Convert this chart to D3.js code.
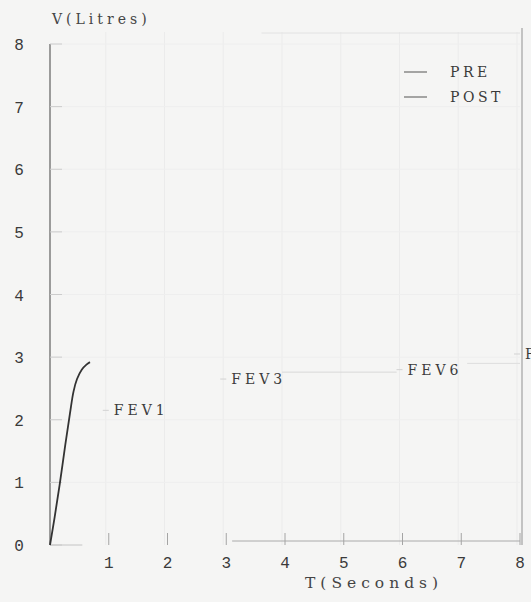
<!DOCTYPE html>
<html><head><meta charset="utf-8">
<script src="https://cdn.jsdelivr.net/npm/d3@7"></script>
<style>
html,body{margin:0;padding:0;background:#f5f5f4;}
svg{display:block;}
</style></head>
<body>
<script>
// Data
const xTicks = [1,2,3,4,5,6,7,8];
const yTicks = [0,1,2,3,4,5,6,7,8];
const preTime = [0, 0.08, 0.17, 0.26, 0.34, 0.4, 0.46, 0.54, 0.62, 0.68];
const preVolume = [0, 0.45, 1.0, 1.6, 2.1, 2.45, 2.65, 2.8, 2.88, 2.92];
const markLabels = ["FEV1", "FEV3", "FEV6", "FVC"];
const markTime = [1, 3, 6, 8];
const markVolume = [2.15, 2.65, 2.8, 3.05];
const legendLabels = ["PRE", "POST"];

const W = 531, H = 602;
const svg = d3.select("body").append("svg").attr("width", W).attr("height", H);
const x = d3.scaleLinear().domain([0, 8]).range([50, 520]);
const y = d3.scaleLinear().domain([0, 8]).range([545, 44]);
const mono = "'Courier New', 'Liberation Mono', 'DejaVu Sans Mono', monospace";
const slab = "'DejaVu Serif', 'Liberation Serif', serif";
const ink = "#3a3a3a";

// faint grid
const g = svg.append("g");
g.selectAll(".gx").data(xTicks).join("line")
  .attr("x1", d => x(d) - 3).attr("x2", d => x(d) - 3)
  .attr("y1", y(8) - 12).attr("y2", y(0))
  .attr("stroke", "#ebebeb").attr("stroke-width", 1);
g.selectAll(".gy").data(yTicks.slice(1)).join("line")
  .attr("x1", x(0)).attr("x2", x(8))
  .attr("y1", d => y(d)).attr("y2", d => y(d))
  .attr("stroke", "#eeeeee").attr("stroke-width", 1);

// frame top & right
svg.append("line").attr("x1", x(3.6)).attr("x2", x(8)).attr("y1", 33).attr("y2", 33)
  .attr("stroke", "#e2e2e2");
svg.append("line").attr("x1", x(8) + 2).attr("x2", x(8) + 2).attr("y1", 28).attr("y2", y(0))
  .attr("stroke", "#9a9a9a").attr("stroke-width", 1.1);

// y axis
svg.append("line").attr("x1", x(0)).attr("x2", x(0)).attr("y1", y(8)).attr("y2", y(0))
  .attr("stroke", "#6a6a6a").attr("stroke-width", 1.3);
svg.selectAll(".yt").data(yTicks).join("line")
  .attr("x1", x(0)).attr("x2", x(0) + 12)
  .attr("y1", d => y(d)).attr("y2", d => y(d))
  .attr("stroke", "#cccccc");
svg.selectAll(".yl").data(yTicks).join("text")
  .attr("x", 19).attr("y", d => y(d) + 6)
  .attr("text-anchor", "middle")
  .attr("font-family", mono).attr("font-size", 16).attr("fill", ink)
  .text(d => d);

// x axis
svg.append("line").attr("x1", x(0)).attr("x2", x(0.55)).attr("y1", y(0)).attr("y2", y(0))
  .attr("stroke", "#c4c4c4");
svg.append("line").attr("x1", x(3.1)).attr("x2", x(8)).attr("y1", y(0) - 4).attr("y2", y(0) - 4)
  .attr("stroke", "#aaaaaa");
svg.selectAll(".xt").data(xTicks).join("line")
  .attr("x1", d => x(d)).attr("x2", d => x(d))
  .attr("y1", y(0) - 12).attr("y2", y(0))
  .attr("stroke", "#a4a4a4");
svg.selectAll(".xl").data(xTicks).join("text")
  .attr("x", d => x(d)).attr("y", 568)
  .attr("text-anchor", "middle")
  .attr("font-family", mono).attr("font-size", 16).attr("fill", ink)
  .text(d => d);

// axis titles
svg.append("text").attr("x", 52).attr("y", 24)
  .attr("font-family", slab).attr("font-size", 14).attr("letter-spacing", 4).attr("fill", "#444")
  .text("V(Litres)");
svg.append("text").attr("x", 305).attr("y", 588)
  .attr("font-family", slab).attr("font-size", 15.5).attr("letter-spacing", 5).attr("fill", "#444")
  .text("T(Seconds)");

// curve
const pts = preTime.map((t, i) => [t, preVolume[i]]);
svg.append("path").datum(pts)
  .attr("d", d3.line().x(d => x(d[0])).y(d => y(d[1])).curve(d3.curveCatmullRom))
  .attr("fill", "none").attr("stroke", "#333").attr("stroke-width", 1.8);

// marker labels
const mg = svg.append("g");
markLabels.forEach((lab, i) => {
  const mx = x(markTime[i]), my = y(markVolume[i]);
  mg.append("line").attr("x1", mx - 6).attr("x2", mx).attr("y1", my).attr("y2", my)
    .attr("stroke", "#d2d2d2");
  mg.append("text").attr("x", mx + 5).attr("y", my + 5)
    .attr("font-family", slab).attr("font-size", 14).attr("letter-spacing", 4).attr("fill", "#3c3c3c")
    .text(lab);
});
// faint plateau guides
svg.append("line").attr("x1", x(3.95)).attr("x2", x(5.9)).attr("y1", y(2.76)).attr("y2", y(2.76))
  .attr("stroke", "#d8d8d8");
svg.append("line").attr("x1", x(7.1)).attr("x2", x(8)).attr("y1", y(2.9)).attr("y2", y(2.9))
  .attr("stroke", "#dddddd");

// legend
legendLabels.forEach((lab, i) => {
  const ly = 72 + i * 25;
  svg.append("line").attr("x1", 404).attr("x2", 427).attr("y1", ly).attr("y2", ly)
    .attr("stroke", "#777").attr("stroke-width", 1.3);
  svg.append("text").attr("x", 450).attr("y", ly + 5)
    .attr("font-family", slab).attr("font-size", 14)
    .attr("letter-spacing", 3.5).attr("fill", "#3a3a3a")
    .text(lab);
});
</script>
</body></html>
